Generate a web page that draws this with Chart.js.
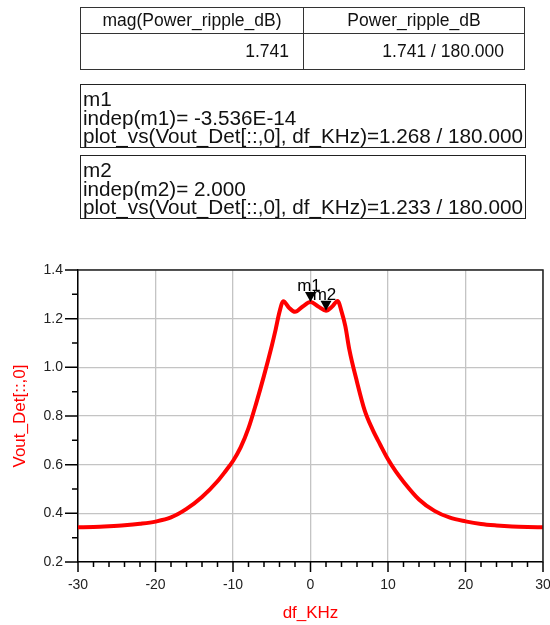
<!DOCTYPE html>
<html>
<head>
<meta charset="utf-8">
<script src="https://cdn.jsdelivr.net/npm/chart.js@4/dist/chart.umd.min.js"></script>
<style>
  body { margin: 0; background: #fff; font-family: "Liberation Sans", Arial, sans-serif; color: #111; }
  #wrap { position: relative; width: 550px; height: 625px; overflow: hidden; }
  #plot { position: absolute; left: 0; top: 0; }
  .tbl { position: absolute; left: 80px; top: 7px; width: 445px; border-collapse: collapse; font-size: 17.5px; }
  .tbl td { border: 1.5px solid #333; padding: 0; }
  .tbl tr.h td { height: 25px; text-align: center; }
  .tbl tr.v td { height: 35px; text-align: right; }
  .tbl tr.v td.c1 { padding-right: 14px; }
  .tbl tr.v td.c2 { padding-right: 20px; }
  .mk { position: absolute; left: 80px; width: 442px; border: 1.5px solid #222;
        font-size: 20.7px; line-height: 18.5px; padding: 5px 0 0 2px; box-sizing: content-box; white-space: nowrap; }
</style>
</head>
<body>
<div id="wrap">
  <canvas id="plot" width="550" height="625"></canvas>
  <table class="tbl">
    <tr class="h"><td class="c1" style="width:222px">mag(Power_ripple_dB)</td><td class="c2">Power_ripple_dB</td></tr>
    <tr class="v"><td class="c1">1.741</td><td class="c2">1.741 / 180.000</td></tr>
  </table>
  <div class="mk" style="top:84px; height:57px;">m1<br>indep(m1)= -3.536E-14<br>plot_vs(Vout_Det[::,0], df_KHz)=1.268 / 180.000</div>
  <div class="mk" style="top:155px; height:57px;">m2<br>indep(m2)= 2.000<br>plot_vs(Vout_Det[::,0], df_KHz)=1.233 / 180.000</div>
</div>
<script>
const dfKHz = [-30, -28, -26, -24, -22, -20, -18, -16, -14, -12, -11, -10, -9, -8, -7, -6, -5, -4.5, -4, -3.5, -2.8, -2, -1, 0,
               1, 2, 2.8, 3.5, 4, 4.5, 5, 6, 7, 8, 9, 10, 11, 12, 14, 16, 18, 20, 22, 24, 26, 28, 30];
const voutDet = [0.343, 0.344, 0.347, 0.351, 0.357, 0.366, 0.383, 0.418, 0.467, 0.532, 0.572, 0.615, 0.672, 0.75, 0.853, 0.966, 1.088, 1.155, 1.228, 1.272, 1.246, 1.228, 1.25, 1.268,
                 1.25, 1.233, 1.25, 1.273, 1.23, 1.168, 1.075, 0.94, 0.822, 0.745, 0.682, 0.622, 0.572, 0.53, 0.457, 0.41, 0.382, 0.367, 0.356, 0.35, 0.346, 0.344, 0.343];

const markerNames = ['m1', 'm2'];
const markerX = [0, 2];
const markerY = [1.268, 1.233];

const xTicks = [-30, -20, -10, 0, 10, 20, 30];
const yTicks = [0.2, 0.4, 0.6, 0.8, 1.0, 1.2, 1.4];

const FONT = '"Liberation Sans", Arial, sans-serif';

// minor/major tick marks plus the m1/m2 markers
const tickMarks = {
    id: 'tickMarks',
    afterDraw(chart) {
        const {ctx, chartArea: a, scales: {x, y}} = chart;
        ctx.save();
        ctx.strokeStyle = '#000';
        ctx.lineWidth = 1.5;
        ctx.beginPath();
        for (let v = -30; v <= 30; v += 2) {
            const px = x.getPixelForValue(v);
            const len = v % 10 === 0 ? 10 : 5;
            ctx.moveTo(px, a.bottom);
            ctx.lineTo(px, a.bottom + len);
        }
        for (let i = 0; i <= 12; i++) {
            const py = y.getPixelForValue(0.2 + i * 0.1);
            const len = i % 2 === 0 ? 13 : 6;
            ctx.moveTo(a.left - len, py);
            ctx.lineTo(a.left, py);
        }
        ctx.stroke();

        ctx.fillStyle = '#000';
        ctx.font = '17px ' + FONT;
        ctx.textAlign = 'center';
        ctx.textBaseline = 'alphabetic';
        markerNames.forEach((name, i) => {
            const px = x.getPixelForValue(markerX[i]);
            const py = y.getPixelForValue(markerY[i]);
            ctx.beginPath();
            ctx.moveTo(px, py);
            ctx.lineTo(px - 5.5, py - 10);
            ctx.lineTo(px + 5.5, py - 10);
            ctx.closePath();
            ctx.fill();
            ctx.fillText(name, px - 1.5, py - 11);
        });
        ctx.restore();
    }
};

const noPad = s => { s.paddingLeft = 0; s.paddingRight = 0; s.paddingTop = 0; s.paddingBottom = 0; };

new Chart(document.getElementById('plot'), {
    type: 'line',
    data: {
        datasets: [{
            data: dfKHz.map((v, i) => ({x: v, y: voutDet[i]})),
            borderColor: '#ff0000',
            borderWidth: 4,
            pointRadius: 0,
            cubicInterpolationMode: 'monotone',
            fill: false
        }]
    },
    options: {
        responsive: false,
        animation: false,
        layout: {padding: {top: 270, right: 7, left: 0, bottom: 0}},
        plugins: {legend: {display: false}, tooltip: {enabled: false}},
        scales: {
            x: {
                type: 'linear', min: -30, max: 30,
                afterBuildTicks: s => { s.ticks = xTicks.map(v => ({value: v})); },
                afterFit: s => { s.height = 63; noPad(s); },
                ticks: {color: '#222', font: {family: FONT, size: 14}, padding: 15, maxRotation: 0,
                        callback: v => String(v)},
                grid: {color: '#c4c4c4', lineWidth: 1.3, drawTicks: false},
                border: {color: '#000', width: 1.5},
                title: {display: true, text: 'df_KHz', color: '#ff0000', font: {family: FONT, size: 17},
                        padding: {top: 0, bottom: 1}}
            },
            y: {
                min: 0.2, max: 1.4,
                afterBuildTicks: s => { s.ticks = yTicks.map(v => ({value: v})); },
                afterFit: s => { s.width = 78; noPad(s); },
                ticks: {color: '#222', font: {family: FONT, size: 14}, padding: 15,
                        callback: v => v.toFixed(1)},
                grid: {color: '#c4c4c4', lineWidth: 1.3, drawTicks: false},
                border: {color: '#000', width: 1.5},
                title: {display: true, text: 'Vout_Det[::,0]', color: '#ff0000', font: {family: FONT, size: 17},
                        padding: {top: 10, bottom: 0}}
            }
        }
    },
    plugins: [tickMarks, {
        id: 'frame',
        afterDraw(chart) {
            const {ctx, chartArea: a} = chart;
            ctx.save();
            ctx.strokeStyle = '#222';
            ctx.lineWidth = 1.5;
            ctx.beginPath();
            ctx.moveTo(a.left, a.top);
            ctx.lineTo(a.right, a.top);
            ctx.lineTo(a.right, a.bottom);
            ctx.stroke();
            ctx.restore();
        }
    }]
});
</script>
</body>
</html>
